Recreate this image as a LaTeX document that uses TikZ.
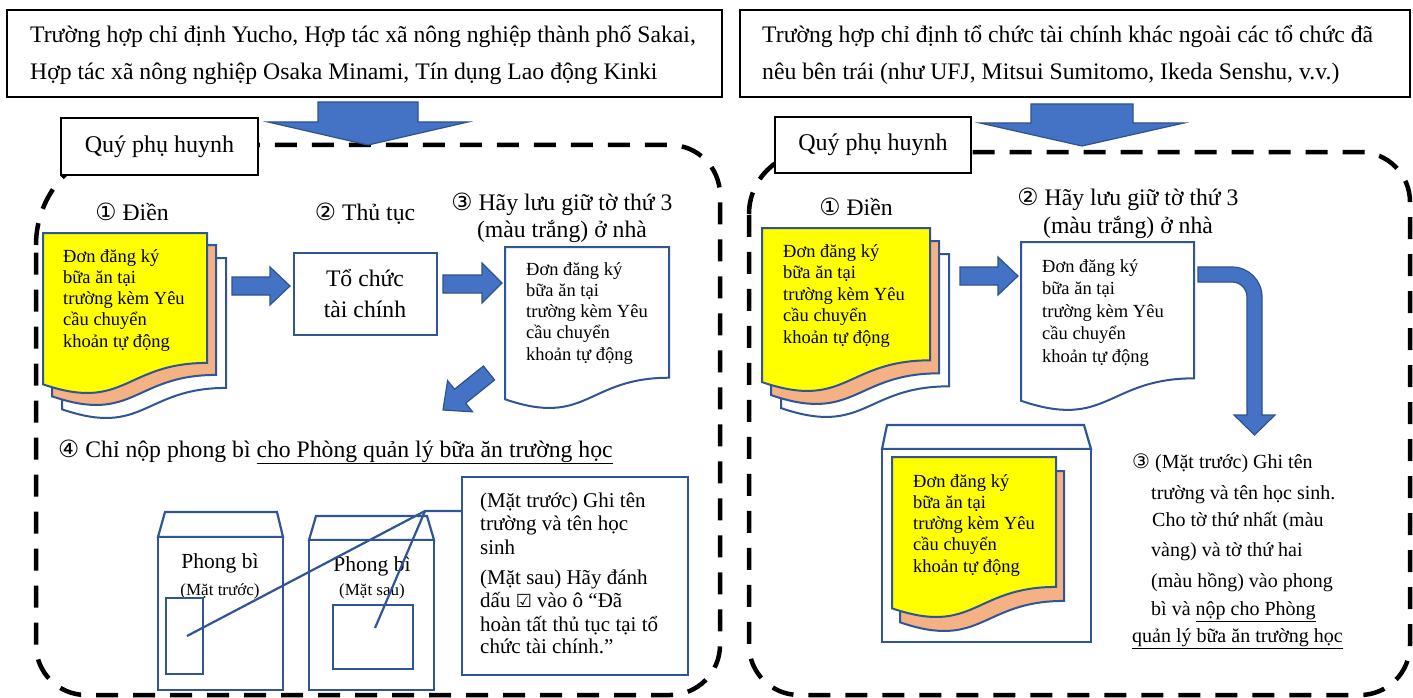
\documentclass[tikz,border=0pt]{standalone}
\usepackage{fontspec}
\setmainfont{Liberation Serif}
\newfontfamily\circfont[Scale=1.0]{DejaVu Sans}
\newcommand{\circnum}[1]{{\circfont #1}}

\definecolor{fmLine}{HTML}{2F5597}
\definecolor{fmArrowFill}{HTML}{4472C4}
\definecolor{fmArrowStroke}{HTML}{2F528F}
\definecolor{fmYellow}{HTML}{FFFF00}
\definecolor{fmPeach}{HTML}{F4B183}

% wavy sheet: x, y, width, height, fill
\newcommand{\wavepage}[5]{%
  \filldraw[fill=#5,draw=fmLine,line width=2pt]
    (#1,#2) -- ({#1+#3},#2) -- ({#1+#3},{#2+0.802*#4})
    .. controls ({#1+0.5*#3},{#2+0.802*#4}) and ({#1+0.5*#3},{#2+1.108*#4}) .. (#1,{#2+0.934*#4}) -- cycle;}

\begin{document}
\begin{tikzpicture}[x=1pt,y=-1pt,
  lbl/.style={inner sep=0pt,font=\fontsize{23.7}{27}\selectfont},
  doctxt/.style={anchor=base west,inner sep=0pt,font=\fontsize{18.5}{21}\selectfont},
  calltxt/.style={anchor=base west,inner sep=0pt,font=\fontsize{21}{24}\selectfont},
  notetxt/.style={anchor=base west,inner sep=0pt,font=\fontsize{20}{24}\selectfont},
  envtxt/.style={anchor=base,inner sep=0pt,font=\fontsize{21.5}{24}\selectfont},
  envsub/.style={anchor=base,inner sep=0pt,font=\fontsize{17}{20}\selectfont},
  hdrbox/.style={draw=black,line width=2.2pt,fill=white,inner sep=0pt},
  bluebox/.style={draw=fmLine,line width=2.2pt,fill=white,inner sep=0pt},
  dashbox/.style={draw=black,line width=4.5pt,dash pattern=on 22pt off 15pt},
  barrow/.style={fill=fmArrowFill,draw=fmArrowStroke,line width=1.2pt},
  envline/.style={draw=fmLine,line width=2.2pt,fill=white},
  callline/.style={draw=fmLine,line width=2.2pt}]
  \useasboundingbox (0,0) rectangle (1413,698);

  % ---- headers ----
  \node[hdrbox,minimum width=715pt,minimum height=87pt] (hdrL) at (364.5,53.5) {};
  \node[lbl,anchor=base west] (hdrL1) at (30,43) {Trường hợp chỉ định Yucho, Hợp tác xã nông nghiệp thành phố Sakai,};
  \node[lbl,anchor=base west] (hdrL2) at (30,80) {Hợp tác xã nông nghiệp Osaka Minami, Tín dụng Lao động Kinki};
  \node[hdrbox,minimum width=670pt,minimum height=87pt] (hdrR) at (1075,53.5) {};
  \node[lbl,anchor=base west] (hdrR1) at (762,43) {Trường hợp chỉ định tổ chức tài chính khác ngoài các tổ chức đã};
  \node[lbl,anchor=base west] (hdrR2) at (762,80) {nêu bên trái (như UFJ, Mitsui Sumitomo, Ikeda Senshu, v.v.)};

  % ---- dashed frames ----
  \draw[dashbox] (36,245) .. controls (36,189.8) and (80.8,145) .. (136,145) -- (670,145)
    .. controls (697.6,145) and (720,167.4) .. (720,195) -- (720,645)
    .. controls (720,672.6) and (697.6,695) .. (670,695) -- (86,695)
    .. controls (58.4,695) and (36,672.6) .. (36,645) -- cycle;
  \draw[dashbox] (749,214) .. controls (749,179.8) and (776.8,152) .. (811,152) -- (1360,152)
    .. controls (1387.6,152) and (1410,174.4) .. (1410,202) -- (1410,645)
    .. controls (1410,672.6) and (1387.6,695) .. (1360,695) -- (799,695)
    .. controls (771.4,695) and (749,672.6) .. (749,645) -- cycle;

  \node[hdrbox,minimum width=197pt,minimum height=57pt,font=\fontsize{24}{27}\selectfont] (parL) at (159.5,146.5) {Quý phụ huynh};
  \node[hdrbox,minimum width=196pt,minimum height=56pt,font=\fontsize{24}{27}\selectfont] (parR) at (873,145) {Quý phụ huynh};

  % ---- big down arrows ----
  \filldraw[barrow] (318,102) -- (418,102) -- (418,122) -- (468,122) -- (368,145) -- (268,122) -- (318,122) -- cycle;
  \filldraw[barrow] (1031,104) -- (1133,104) -- (1133,123) -- (1184,123) -- (1082,146) -- (980,123) -- (1031,123) -- cycle;

  % ---- left: steps 1-3 ----
  \node[lbl,anchor=base] (stepLa) at (132,220) {\circnum{①} Điền};
  \node[lbl,anchor=base] (stepLb) at (365,220) {\circnum{②} Thủ tục};
  \node[lbl,anchor=base] (stepLc1) at (562,210) {\circnum{③} Hãy lưu giữ tờ thứ 3};
  \node[lbl,anchor=base] (stepLc2) at (562,237) {(màu trắng) ở nhà};

  \wavepage{62}{258}{164}{162}{white}
  \wavepage{52}{245}{164}{162}{fmPeach}
  \wavepage{43}{233}{164}{162}{fmYellow}
  \wavepage{505}{247}{164}{163}{white}

  \node[bluebox,minimum width=143pt,minimum height=82pt] (finbox) at (365.5,294) {};
  \node[lbl,anchor=base] (fin1) at (365,286) {Tổ chức};
  \node[lbl,anchor=base] (fin2) at (365,317) {tài chính};

  \filldraw[barrow] (232,277) -- (270,277) -- (270,267) -- (290,286) -- (270,305) -- (270,295) -- (232,295) -- cycle;
  \filldraw[barrow] (443,275) -- (482,275) -- (482,263) -- (502,283) -- (482,303) -- (482,293) -- (443,293) -- cycle;
  \filldraw[barrow] (494.6,380) -- (483.4,366) -- (454.5,389.2) -- (447.6,380.6) -- (443,410)
    -- (472.6,411.8) -- (465.7,403.2) -- cycle;

  % ---- left: step 4 ----
  \node[lbl,anchor=base west] (stepLd) at (58,457) {\circnum{④} Chỉ nộp phong bì \underline{cho Phòng quản lý bữa ăn trường học}};

  \filldraw[envline] (158,537) -- (165,512) -- (277,512) -- (283,537) -- cycle;
  \node[bluebox,minimum width=125pt,minimum height=153pt] (envF) at (220.5,613.5) {};
  \node[envtxt] (envFt) at (220,568) {Phong bì};
  \node[envsub] (envFs) at (220,595) {(Mặt trước)};
  \node[draw=fmLine,line width=2.2pt,inner sep=0pt,minimum width=37pt,minimum height=76pt] (winF) at (184.5,636) {};

  \filldraw[envline] (309,540) -- (316,516) -- (427,516) -- (434,540) -- cycle;
  \node[bluebox,minimum width=125pt,minimum height=150pt] (envB) at (371.5,615) {};
  \node[envtxt] (envBt) at (372,571) {Phong bì};
  \node[envsub] (envBs) at (372,595) {(Mặt sau)};
  \node[draw=fmLine,line width=2.2pt,inner sep=0pt,minimum width=80pt,minimum height=64pt] (winB) at (373,637) {};

  \node[bluebox,minimum width=226pt,minimum height=198pt] (callout) at (575,576) {};
  \foreach \cl/\cy [count=\i] in {{(Mặt trước) Ghi tên}/507, {trường và tên học}/530, {sinh}/554,
      {(Mặt sau) Hãy đánh}/584, {dấu {\circfont\fontsize{18}{24}\selectfont ☑} vào ô “Đã}/607, {hoàn tất thủ tục tại tổ}/631,
      {chức tài chính.”}/653}
    \node[calltxt] (call\i) at (480,\cy) {\cl};

  \coordinate (apex) at (425,511);
  \coordinate (tgtF) at (187,636);
  \coordinate (tgtB) at (375,628);
  \draw[callline] (callout.west |- apex) -- (apex) -- (tgtF);
  \draw[callline] (apex) -- (tgtB);

  % ---- right panel ----
  \node[lbl,anchor=base] (stepRa) at (856,215) {\circnum{①} Điền};
  \node[lbl,anchor=base] (stepRb1) at (1128,205) {\circnum{②} Hãy lưu giữ tờ thứ 3};
  \node[lbl,anchor=base] (stepRb2) at (1128,233) {(màu trắng) ở nhà};

  \wavepage{781}{254}{168}{165}{white}
  \wavepage{771}{241}{168}{165}{fmPeach}
  \wavepage{762}{228}{168}{165}{fmYellow}
  \wavepage{1021}{242}{173}{170}{white}

  \filldraw[barrow] (960,267) -- (998,267) -- (998,257) -- (1018,276) -- (998,295) -- (998,285) -- (960,285) -- cycle;
  \filldraw[barrow] (1198,267) -- (1232,267) .. controls (1248.6,267) and (1262,280.4) .. (1262,297)
    -- (1262,415) -- (1275,415) -- (1254.5,435) -- (1234,415) -- (1247,415) -- (1247,297)
    .. controls (1247,288.7) and (1240.3,282) .. (1232,282) -- (1198,282) -- cycle;

  \filldraw[envline] (882,449) -- (887,425) -- (1084,425) -- (1091,449) -- cycle;
  \node[bluebox,minimum width=209pt,minimum height=193pt] (envR) at (986.5,545.5) {};
  \wavepage{900}{471}{164}{162}{fmPeach}
  \wavepage{892}{457}{164}{162}{fmYellow}

  \foreach \dx/\dy/\ds/\dn in {63/262/21.25/txA, 526/275/21.25/txB, 783/257/21.5/txC, 1042/272/22.5/txD, 913/487/21.25/txE}{
    \foreach \docline [count=\i] in {Đơn đăng ký, bữa ăn tại, trường kèm Yêu, cầu chuyển, khoản tự động}
      \node[doctxt] (\dn\i) at (\dx,{\dy+\ds*(\i-1)}) {\docline};
  }

  \foreach \nl/\nx/\ny [count=\i] in {{\circnum{③} (Mặt trước) Ghi tên}/1132/468, {trường và tên học sinh.}/1151/499,
      {Cho tờ thứ nhất (màu}/1152/526, {vàng) và tờ thứ hai}/1151/556, {(màu hồng) vào phong}/1151/587,
      {bì và \underline{nộp cho Phòng}}/1151/615, {\underline{quản lý bữa ăn trường học}}/1132/642}
    \node[notetxt] (note\i) at (\nx,\ny) {\nl};
\end{tikzpicture}
\end{document}
